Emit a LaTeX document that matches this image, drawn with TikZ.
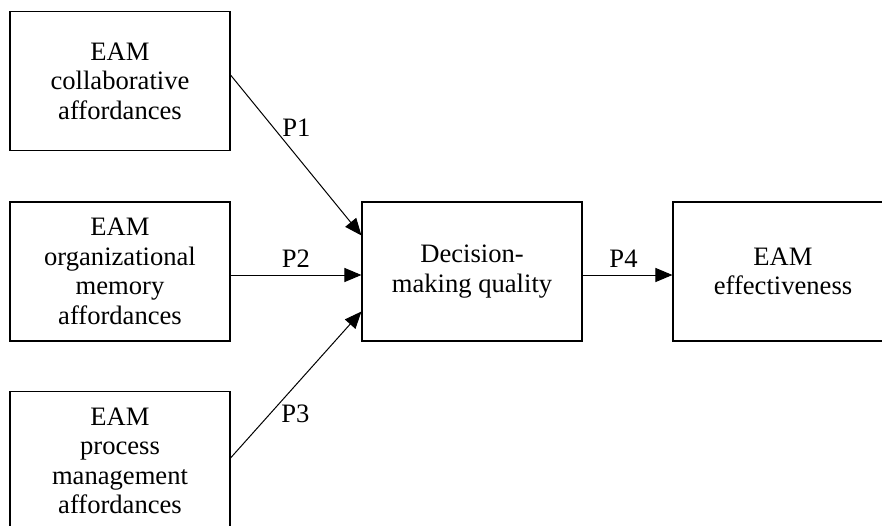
\documentclass[tikz,border=0pt]{standalone}
\usepackage{fontspec}
\setmainfont{Liberation Serif}
\usetikzlibrary{arrows.meta}
\begin{document}
\begin{tikzpicture}[x=1pt,y=-1pt,
  box/.style={draw, line width=1.1pt, minimum width=220pt, minimum height=139pt,
    align=center, inner sep=0pt, font=\fontsize{26.6}{29.5}\selectfont},
  lbl/.style={inner sep=0pt, font=\fontsize{26.6}{29.5}\selectfont},
  conn/.style={line width=1pt, -{Triangle[length=17pt,width=14pt]}}]
\useasboundingbox (0,0) rectangle (882,526);
\clip (0,0) rectangle (882,526);
\node[box] (b1) at (120,81) {EAM\\collaborative\\affordances};
\node[box] (b2) at (120,271.5) {EAM\\organizational\\memory\\affordances};
\node[box] (b3) at (120,461) {EAM\\process\\management\\affordances};
\node[box] (dm) at (472,271.5) {Decision-\\making quality};
\node[box] (ef) at (783,271.5) {EAM\\effectiveness};
\draw[conn] ([yshift=6pt]b1.east) -- node[lbl, pos=0.33, anchor=west, xshift=8pt] {P1} ([yshift=36pt]dm.west);
\draw[conn] ([yshift=-3.5pt]b2.east) -- node[lbl, midway, anchor=south, yshift=7pt] {P2} ([yshift=-3.5pt]dm.west);
\draw[conn] ([yshift=3pt]b3.east) -- node[lbl, pos=0.3, anchor=west, xshift=11pt] {P3} ([yshift=-40pt]dm.west);
\draw[conn] ([yshift=-3.5pt]dm.east) -- node[lbl, midway, anchor=south, yshift=7pt, xshift=-4pt] {P4} ([yshift=-3.5pt]ef.west);
\end{tikzpicture}
\end{document}
